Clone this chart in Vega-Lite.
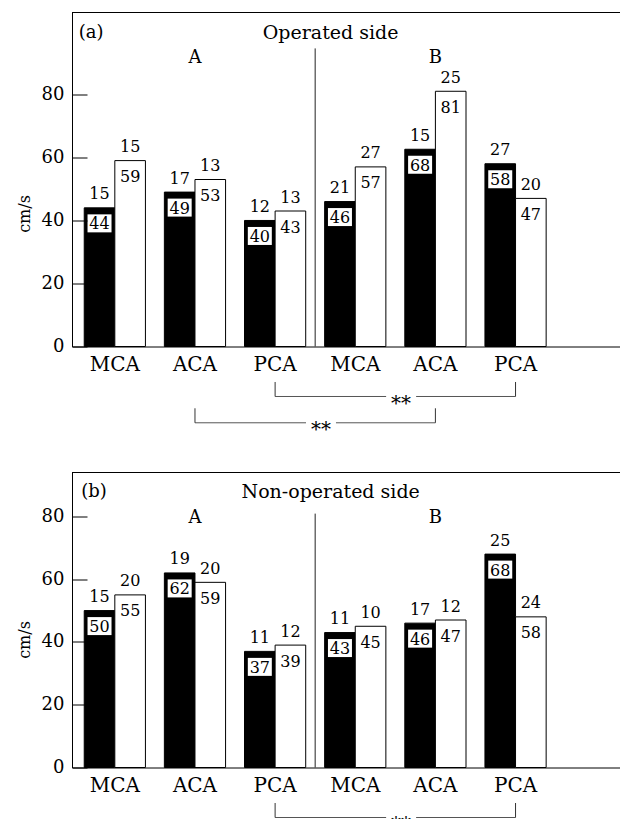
{
  "$schema": "https://vega.github.io/schema/vega-lite/v6.json",
  "padding": {"left": 16, "top": 11.5, "right": 0, "bottom": 0},
  "bounds": "flush",
  "spacing": 10,
  "datasets": {
    "opA": [
      {"key": "A MCA", "s": "1", "v": 44, "lab": "44", "n": "15"},
      {"key": "A MCA", "s": "2", "v": 59, "lab": "59", "n": "15"},
      {"key": "A ACA", "s": "1", "v": 49, "lab": "49", "n": "17"},
      {"key": "A ACA", "s": "2", "v": 53, "lab": "53", "n": "13"},
      {"key": "A PCA", "s": "1", "v": 40, "lab": "40", "n": "12"},
      {"key": "A PCA", "s": "2", "v": 43, "lab": "43", "n": "13"},
      {"key": "B MCA", "s": "1", "v": 46, "lab": "46", "n": "21"},
      {"key": "B MCA", "s": "2", "v": 57, "lab": "57", "n": "27"},
      {"key": "B ACA", "s": "1", "v": 62.6, "lab": "68", "n": "15"},
      {"key": "B ACA", "s": "2", "v": 81, "lab": "81", "n": "25"},
      {"key": "B PCA", "s": "1", "v": 58, "lab": "58", "n": "27"},
      {"key": "B PCA", "s": "2", "v": 47, "lab": "47", "n": "20"}
    ],
    "nonB": [
      {"key": "A MCA", "s": "1", "v": 50, "lab": "50", "n": "15"},
      {"key": "A MCA", "s": "2", "v": 55, "lab": "55", "n": "20"},
      {"key": "A ACA", "s": "1", "v": 62, "lab": "62", "n": "19"},
      {"key": "A ACA", "s": "2", "v": 59, "lab": "59", "n": "20"},
      {"key": "A PCA", "s": "1", "v": 37, "lab": "37", "n": "11"},
      {"key": "A PCA", "s": "2", "v": 39, "lab": "39", "n": "12"},
      {"key": "B MCA", "s": "1", "v": 43, "lab": "43", "n": "11"},
      {"key": "B MCA", "s": "2", "v": 45, "lab": "45", "n": "10"},
      {"key": "B ACA", "s": "1", "v": 46, "lab": "46", "n": "17"},
      {"key": "B ACA", "s": "2", "v": 47, "lab": "47", "n": "12"},
      {"key": "B PCA", "s": "1", "v": 68, "lab": "68", "n": "25"},
      {"key": "B PCA", "s": "2", "v": 48, "lab": "58", "n": "24"}
    ],
    "brA": [
      {"from": "A PCA", "to": "B PCA", "lev": 1},
      {"from": "A ACA", "to": "B ACA", "lev": 2}
    ],
    "brB": [
      {"from": "A PCA", "to": "B PCA", "lev": 1}
    ],
    "groups": [
      {"g": "A", "k": "A ACA"},
      {"g": "B", "k": "B ACA"}
    ]
  },
  "vconcat": [
    {
      "width": 548,
      "height": 334,
      "layer": [
        {
          "data": {"name": "opA"},
          "mark": {"type": "bar", "stroke": "#000", "strokeWidth": 1},
          "encoding": {
            "x": {"field": "key", "type": "nominal", "sort": null,
                  "scale": {"domain": ["A MCA", "A ACA", "A PCA", "B MCA", "B ACA", "B PCA"], "paddingInner": 0.2363, "paddingOuter": 0.537, "align": 0.142},
                  "axis": {"title": null, "labelExpr": "split(datum.label, ' ')[1]", "ticks": false, "labelPadding": 8, "labelFontSize": 20, "labelColor": "#000", "domainColor": "#000", "labelAngle": 0, "labelFont": "DejaVu Serif", "labelOverlap": false}},
            "xOffset": {"field": "s", "type": "nominal", "scale": {"domain": ["1", "2"], "paddingInner": 0, "paddingOuter": 0}},
            "y": {"field": "v", "type": "quantitative",
                  "scale": {"domain": [0, 106], "nice": false, "zero": true},
                  "axis": {"values": [0, 5, 10, 15, 20, 25, 30, 35, 40, 45, 50, 55, 60, 65, 70, 75, 80, 85, 90], "labelExpr": "datum.value % 10 === 0 ? datum.label : ''", "labelOverlap": false, "zindex": 1, "tickSize": {"condition": {"test": "datum.value % 10 === 0", "value": -15}, "value": -8}, "labelPadding": 23, "tickColor": "#000", "domainColor": "#000", "labelColor": "#000", "labelFontSize": 18, "labelFont": "DejaVu Serif", "grid": false, "title": "cm/s", "titleFontSize": 16, "titleFontWeight": "normal", "titleFont": "DejaVu Serif", "titleColor": "#000", "titleX": -43, "titleY": 201, "titleBaseline": "alphabetic"}},
            "color": {"field": "s", "type": "nominal", "scale": {"domain": ["1", "2"], "range": ["#000000", "#ffffff"]}, "legend": null}
          }
        },
        {
          "data": {"values": [{}]},
          "mark": {"type": "rule", "color": "#000", "strokeWidth": 1},
          "encoding": {"y": {"datum": 106, "type": "quantitative",
            "axis": {"values": [0, 5, 10, 15, 20, 25, 30, 35, 40, 45, 50, 55, 60, 65, 70, 75, 80, 85, 90], "labelExpr": "datum.value % 10 === 0 ? datum.label : ''", "labelOverlap": false, "zindex": 1, "tickSize": {"condition": {"test": "datum.value % 10 === 0", "value": -15}, "value": -8}, "labelPadding": 23, "tickColor": "#000", "domainColor": "#000", "labelColor": "#000", "labelFontSize": 18, "labelFont": "DejaVu Serif", "grid": false, "title": "cm/s", "titleFontSize": 16, "titleFontWeight": "normal", "titleFont": "DejaVu Serif", "titleColor": "#000", "titleX": -43, "titleY": 201, "titleBaseline": "alphabetic"}}}
        },
        {
          "data": {"values": [{}]},
          "mark": {"type": "rule", "color": "#222", "strokeWidth": 1, "xOffset": -40.1},
          "encoding": {
            "x": {"datum": "B MCA", "type": "nominal"},
            "y": {"datum": 0, "type": "quantitative",
              "axis": {"values": [0, 5, 10, 15, 20, 25, 30, 35, 40, 45, 50, 55, 60, 65, 70, 75, 80, 85, 90], "labelExpr": "datum.value % 10 === 0 ? datum.label : ''", "labelOverlap": false, "zindex": 1, "tickSize": {"condition": {"test": "datum.value % 10 === 0", "value": -15}, "value": -8}, "labelPadding": 23, "tickColor": "#000", "domainColor": "#000", "labelColor": "#000", "labelFontSize": 18, "labelFont": "DejaVu Serif", "grid": false, "title": "cm/s", "titleFontSize": 16, "titleFontWeight": "normal", "titleFont": "DejaVu Serif", "titleColor": "#000", "titleX": -43, "titleY": 201, "titleBaseline": "alphabetic"}},
            "y2": {"datum": 94.6}
          }
        },
        {
          "data": {"name": "opA"},
          "transform": [{"filter": "datum.s === '1'"}],
          "mark": {"type": "point", "shape": "M-1,-0.75H1V0.75H-1Z", "size": 576, "filled": true, "fill": "#fff", "opacity": 1, "strokeWidth": 0, "yOffset": 15.5},
          "encoding": {
            "x": {"field": "key", "type": "nominal"},
            "xOffset": {"field": "s", "type": "nominal"},
            "y": {"field": "v", "type": "quantitative"}
          }
        },
        {
          "data": {"name": "opA"},
          "mark": {"type": "text", "fontSize": 16, "baseline": "alphabetic", "dy": 21.5, "fill": "#000"},
          "encoding": {
            "x": {"field": "key", "type": "nominal"},
            "xOffset": {"field": "s", "type": "nominal"},
            "y": {"field": "v", "type": "quantitative"},
            "text": {"field": "lab"}
          }
        },
        {
          "data": {"name": "opA"},
          "mark": {"type": "text", "fontSize": 16, "baseline": "alphabetic", "dy": -8.5, "fill": "#000"},
          "encoding": {
            "x": {"field": "key", "type": "nominal"},
            "xOffset": {"field": "s", "type": "nominal"},
            "y": {"field": "v", "type": "quantitative"},
            "text": {"field": "n"}
          }
        },
        {
          "data": {"name": "groups"},
          "mark": {"type": "text", "fontSize": 18, "baseline": "middle", "fill": "#000"},
          "encoding": {
            "x": {"field": "k", "type": "nominal"},
            "y": {"datum": 91.6, "type": "quantitative",
              "axis": {"values": [0, 5, 10, 15, 20, 25, 30, 35, 40, 45, 50, 55, 60, 65, 70, 75, 80, 85, 90], "labelExpr": "datum.value % 10 === 0 ? datum.label : ''", "labelOverlap": false, "zindex": 1, "tickSize": {"condition": {"test": "datum.value % 10 === 0", "value": -15}, "value": -8}, "labelPadding": 23, "tickColor": "#000", "domainColor": "#000", "labelColor": "#000", "labelFontSize": 18, "labelFont": "DejaVu Serif", "grid": false, "title": "cm/s", "titleFontSize": 16, "titleFontWeight": "normal", "titleFont": "DejaVu Serif", "titleColor": "#000", "titleX": -43, "titleY": 201, "titleBaseline": "alphabetic"}},
            "text": {"field": "g"}
          }
        },
        {
          "data": {"values": [{"t": "(a)"}]},
          "mark": {"type": "text", "fontSize": 18, "baseline": "middle", "align": "left", "dx": -36, "fill": "#000"},
          "encoding": {
            "x": {"datum": "A MCA", "type": "nominal"},
            "y": {"datum": 99.6, "type": "quantitative",
              "axis": {"values": [0, 5, 10, 15, 20, 25, 30, 35, 40, 45, 50, 55, 60, 65, 70, 75, 80, 85, 90], "labelExpr": "datum.value % 10 === 0 ? datum.label : ''", "labelOverlap": false, "zindex": 1, "tickSize": {"condition": {"test": "datum.value % 10 === 0", "value": -15}, "value": -8}, "labelPadding": 23, "tickColor": "#000", "domainColor": "#000", "labelColor": "#000", "labelFontSize": 18, "labelFont": "DejaVu Serif", "grid": false, "title": "cm/s", "titleFontSize": 16, "titleFontWeight": "normal", "titleFont": "DejaVu Serif", "titleColor": "#000", "titleX": -43, "titleY": 201, "titleBaseline": "alphabetic"}},
            "text": {"field": "t"}
          }
        },
        {
          "data": {"values": [{"t": "Operated side"}]},
          "mark": {"type": "text", "fontSize": 19, "baseline": "middle", "align": "center", "dx": -24.6, "fill": "#000"},
          "encoding": {
            "x": {"datum": "B MCA", "type": "nominal"},
            "y": {"datum": 99.6, "type": "quantitative",
              "axis": {"values": [0, 5, 10, 15, 20, 25, 30, 35, 40, 45, 50, 55, 60, 65, 70, 75, 80, 85, 90], "labelExpr": "datum.value % 10 === 0 ? datum.label : ''", "labelOverlap": false, "zindex": 1, "tickSize": {"condition": {"test": "datum.value % 10 === 0", "value": -15}, "value": -8}, "labelPadding": 23, "tickColor": "#000", "domainColor": "#000", "labelColor": "#000", "labelFontSize": 18, "labelFont": "DejaVu Serif", "grid": false, "title": "cm/s", "titleFontSize": 16, "titleFontWeight": "normal", "titleFont": "DejaVu Serif", "titleColor": "#000", "titleX": -43, "titleY": 201, "titleBaseline": "alphabetic"}},
            "text": {"field": "t"}
          }
        }
      ]
    },
    {
      "width": 548,
      "height": 106,
      "data": {"name": "brA"},
      "layer": [
        {
          "mark": {"type": "rule", "color": "#555", "strokeWidth": 1},
          "encoding": {
            "x": {"field": "from", "type": "nominal", "scale": {"domain": ["A MCA", "A ACA", "A PCA", "B MCA", "B ACA", "B PCA"], "paddingInner": 0.2363, "paddingOuter": 0.537, "align": 0.142}, "axis": null},
            "x2": {"field": "to"},
            "y": {"field": "lev", "type": "quantitative", "scale": {"domain": [-0.521, 3.51], "reverse": true, "nice": false, "zero": false}, "axis": null}
          }
        },
        {
          "mark": {"type": "rule", "color": "#333", "strokeWidth": 1, "y2Offset": -14.5},
          "encoding": {
            "x": {"field": "from", "type": "nominal", "axis": null},
            "y": {"field": "lev", "type": "quantitative", "axis": null},
            "y2": {"field": "lev"}
          }
        },
        {
          "mark": {"type": "rule", "color": "#333", "strokeWidth": 1, "y2Offset": -14.5},
          "encoding": {
            "x": {"field": "to", "type": "nominal", "axis": null},
            "y": {"field": "lev", "type": "quantitative", "axis": null},
            "y2": {"field": "lev"}
          }
        },
        {
          "mark": {"type": "point", "shape": "M-1,-0.3H1V0.3H-1Z", "size": 900, "filled": true, "fill": "#fff", "opacity": 1, "strokeWidth": 0, "xOffset": 126},
          "encoding": {
            "x": {"field": "from", "type": "nominal", "axis": null},
            "y": {"field": "lev", "type": "quantitative", "axis": null}
          }
        },
        {
          "mark": {"type": "text", "text": "**", "fontSize": 20, "baseline": "alphabetic", "dx": 126, "dy": 13.5, "fill": "#000"},
          "encoding": {
            "x": {"field": "from", "type": "nominal", "axis": null},
            "y": {"field": "lev", "type": "quantitative", "axis": null}
          }
        }
      ]
    },
    {
      "width": 548,
      "height": 295,
      "layer": [
        {
          "data": {"name": "nonB"},
          "mark": {"type": "bar", "stroke": "#000", "strokeWidth": 1},
          "encoding": {
            "x": {"field": "key", "type": "nominal", "sort": null,
                  "scale": {"domain": ["A MCA", "A ACA", "A PCA", "B MCA", "B ACA", "B PCA"], "paddingInner": 0.2363, "paddingOuter": 0.537, "align": 0.142},
                  "axis": {"title": null, "labelExpr": "split(datum.label, ' ')[1]", "ticks": false, "labelPadding": 8, "labelFontSize": 20, "labelColor": "#000", "domainColor": "#000", "labelAngle": 0, "labelFont": "DejaVu Serif", "labelOverlap": false}},
            "xOffset": {"field": "s", "type": "nominal", "scale": {"domain": ["1", "2"], "paddingInner": 0, "paddingOuter": 0}},
            "y": {"field": "v", "type": "quantitative",
                  "scale": {"domain": [0, 94], "nice": false, "zero": true},
                  "axis": {"values": [0, 5, 10, 15, 20, 25, 30, 35, 40, 45, 50, 55, 60, 65, 70, 75, 80], "labelExpr": "datum.value % 10 === 0 ? datum.label : ''", "labelOverlap": false, "zindex": 1, "tickSize": {"condition": {"test": "datum.value % 10 === 0", "value": -15}, "value": -8}, "labelPadding": 23, "tickColor": "#000", "domainColor": "#000", "labelColor": "#000", "labelFontSize": 18, "labelFont": "DejaVu Serif", "grid": false, "title": "cm/s", "titleFontSize": 16, "titleFontWeight": "normal", "titleFont": "DejaVu Serif", "titleColor": "#000", "titleX": -43, "titleY": 167, "titleBaseline": "alphabetic"}},
            "color": {"field": "s", "type": "nominal", "scale": {"domain": ["1", "2"], "range": ["#000000", "#ffffff"]}, "legend": null}
          }
        },
        {
          "data": {"values": [{}]},
          "mark": {"type": "rule", "color": "#000", "strokeWidth": 1},
          "encoding": {"y": {"datum": 94, "type": "quantitative",
            "axis": {"values": [0, 5, 10, 15, 20, 25, 30, 35, 40, 45, 50, 55, 60, 65, 70, 75, 80], "labelExpr": "datum.value % 10 === 0 ? datum.label : ''", "labelOverlap": false, "zindex": 1, "tickSize": {"condition": {"test": "datum.value % 10 === 0", "value": -15}, "value": -8}, "labelPadding": 23, "tickColor": "#000", "domainColor": "#000", "labelColor": "#000", "labelFontSize": 18, "labelFont": "DejaVu Serif", "grid": false, "title": "cm/s", "titleFontSize": 16, "titleFontWeight": "normal", "titleFont": "DejaVu Serif", "titleColor": "#000", "titleX": -43, "titleY": 167, "titleBaseline": "alphabetic"}}}
        },
        {
          "data": {"values": [{}]},
          "mark": {"type": "rule", "color": "#222", "strokeWidth": 1, "xOffset": -40.1},
          "encoding": {
            "x": {"datum": "B MCA", "type": "nominal"},
            "y": {"datum": 0, "type": "quantitative",
              "axis": {"values": [0, 5, 10, 15, 20, 25, 30, 35, 40, 45, 50, 55, 60, 65, 70, 75, 80], "labelExpr": "datum.value % 10 === 0 ? datum.label : ''", "labelOverlap": false, "zindex": 1, "tickSize": {"condition": {"test": "datum.value % 10 === 0", "value": -15}, "value": -8}, "labelPadding": 23, "tickColor": "#000", "domainColor": "#000", "labelColor": "#000", "labelFontSize": 18, "labelFont": "DejaVu Serif", "grid": false, "title": "cm/s", "titleFontSize": 16, "titleFontWeight": "normal", "titleFont": "DejaVu Serif", "titleColor": "#000", "titleX": -43, "titleY": 167, "titleBaseline": "alphabetic"}},
            "y2": {"datum": 80.9}
          }
        },
        {
          "data": {"name": "nonB"},
          "transform": [{"filter": "datum.s === '1'"}],
          "mark": {"type": "point", "shape": "M-1,-0.75H1V0.75H-1Z", "size": 576, "filled": true, "fill": "#fff", "opacity": 1, "strokeWidth": 0, "yOffset": 15.5},
          "encoding": {
            "x": {"field": "key", "type": "nominal"},
            "xOffset": {"field": "s", "type": "nominal"},
            "y": {"field": "v", "type": "quantitative"}
          }
        },
        {
          "data": {"name": "nonB"},
          "mark": {"type": "text", "fontSize": 16, "baseline": "alphabetic", "dy": 21.5, "fill": "#000"},
          "encoding": {
            "x": {"field": "key", "type": "nominal"},
            "xOffset": {"field": "s", "type": "nominal"},
            "y": {"field": "v", "type": "quantitative"},
            "text": {"field": "lab"}
          }
        },
        {
          "data": {"name": "nonB"},
          "mark": {"type": "text", "fontSize": 16, "baseline": "alphabetic", "dy": -8.5, "fill": "#000"},
          "encoding": {
            "x": {"field": "key", "type": "nominal"},
            "xOffset": {"field": "s", "type": "nominal"},
            "y": {"field": "v", "type": "quantitative"},
            "text": {"field": "n"}
          }
        },
        {
          "data": {"name": "groups"},
          "mark": {"type": "text", "fontSize": 18, "baseline": "middle", "fill": "#000"},
          "encoding": {
            "x": {"field": "k", "type": "nominal"},
            "y": {"datum": 79.6, "type": "quantitative",
              "axis": {"values": [0, 5, 10, 15, 20, 25, 30, 35, 40, 45, 50, 55, 60, 65, 70, 75, 80], "labelExpr": "datum.value % 10 === 0 ? datum.label : ''", "labelOverlap": false, "zindex": 1, "tickSize": {"condition": {"test": "datum.value % 10 === 0", "value": -15}, "value": -8}, "labelPadding": 23, "tickColor": "#000", "domainColor": "#000", "labelColor": "#000", "labelFontSize": 18, "labelFont": "DejaVu Serif", "grid": false, "title": "cm/s", "titleFontSize": 16, "titleFontWeight": "normal", "titleFont": "DejaVu Serif", "titleColor": "#000", "titleX": -43, "titleY": 167, "titleBaseline": "alphabetic"}},
            "text": {"field": "g"}
          }
        },
        {
          "data": {"values": [{"t": "(b)"}]},
          "mark": {"type": "text", "fontSize": 18, "baseline": "middle", "align": "left", "dx": -33.5, "fill": "#000"},
          "encoding": {
            "x": {"datum": "A MCA", "type": "nominal"},
            "y": {"datum": 87.8, "type": "quantitative",
              "axis": {"values": [0, 5, 10, 15, 20, 25, 30, 35, 40, 45, 50, 55, 60, 65, 70, 75, 80], "labelExpr": "datum.value % 10 === 0 ? datum.label : ''", "labelOverlap": false, "zindex": 1, "tickSize": {"condition": {"test": "datum.value % 10 === 0", "value": -15}, "value": -8}, "labelPadding": 23, "tickColor": "#000", "domainColor": "#000", "labelColor": "#000", "labelFontSize": 18, "labelFont": "DejaVu Serif", "grid": false, "title": "cm/s", "titleFontSize": 16, "titleFontWeight": "normal", "titleFont": "DejaVu Serif", "titleColor": "#000", "titleX": -43, "titleY": 167, "titleBaseline": "alphabetic"}},
            "text": {"field": "t"}
          }
        },
        {
          "data": {"values": [{"t": "Non-operated side"}]},
          "mark": {"type": "text", "fontSize": 19, "baseline": "middle", "align": "center", "dx": -24.6, "fill": "#000"},
          "encoding": {
            "x": {"datum": "B MCA", "type": "nominal"},
            "y": {"datum": 87.8, "type": "quantitative",
              "axis": {"values": [0, 5, 10, 15, 20, 25, 30, 35, 40, 45, 50, 55, 60, 65, 70, 75, 80], "labelExpr": "datum.value % 10 === 0 ? datum.label : ''", "labelOverlap": false, "zindex": 1, "tickSize": {"condition": {"test": "datum.value % 10 === 0", "value": -15}, "value": -8}, "labelPadding": 23, "tickColor": "#000", "domainColor": "#000", "labelColor": "#000", "labelFontSize": 18, "labelFont": "DejaVu Serif", "grid": false, "title": "cm/s", "titleFontSize": 16, "titleFontWeight": "normal", "titleFont": "DejaVu Serif", "titleColor": "#000", "titleX": -43, "titleY": 167, "titleBaseline": "alphabetic"}},
            "text": {"field": "t"}
          }
        }
      ]
    },
    {
      "width": 548,
      "height": 50,
      "data": {"name": "brB"},
      "layer": [
        {
          "mark": {"type": "rule", "color": "#555", "strokeWidth": 1},
          "encoding": {
            "x": {"field": "from", "type": "nominal", "scale": {"domain": ["A MCA", "A ACA", "A PCA", "B MCA", "B ACA", "B PCA"], "paddingInner": 0.2363, "paddingOuter": 0.537, "align": 0.142}, "axis": null},
            "x2": {"field": "to"},
            "y": {"field": "lev", "type": "quantitative", "scale": {"domain": [-0.521, 1.38], "reverse": true, "nice": false, "zero": false}, "axis": null}
          }
        },
        {
          "mark": {"type": "rule", "color": "#333", "strokeWidth": 1, "y2Offset": -14.5},
          "encoding": {
            "x": {"field": "from", "type": "nominal", "axis": null},
            "y": {"field": "lev", "type": "quantitative", "axis": null},
            "y2": {"field": "lev"}
          }
        },
        {
          "mark": {"type": "rule", "color": "#333", "strokeWidth": 1, "y2Offset": -14.5},
          "encoding": {
            "x": {"field": "to", "type": "nominal", "axis": null},
            "y": {"field": "lev", "type": "quantitative", "axis": null},
            "y2": {"field": "lev"}
          }
        },
        {
          "mark": {"type": "point", "shape": "M-1,-0.3H1V0.3H-1Z", "size": 900, "filled": true, "fill": "#fff", "opacity": 1, "strokeWidth": 0, "xOffset": 126},
          "encoding": {
            "x": {"field": "from", "type": "nominal", "axis": null},
            "y": {"field": "lev", "type": "quantitative", "axis": null}
          }
        },
        {
          "mark": {"type": "text", "text": "**", "fontSize": 20, "baseline": "alphabetic", "dx": 126, "dy": 13.5, "fill": "#000"},
          "encoding": {
            "x": {"field": "from", "type": "nominal", "axis": null},
            "y": {"field": "lev", "type": "quantitative", "axis": null}
          }
        }
      ]
    }
  ],
  "resolve": {"scale": {"x": "independent", "y": "independent"}},
  "config": {
    "font": "DejaVu Serif",
    "view": {"stroke": null},
    "axis": {"domainWidth": 1, "tickWidth": 1, "labelOverlap": false}
  }
}
